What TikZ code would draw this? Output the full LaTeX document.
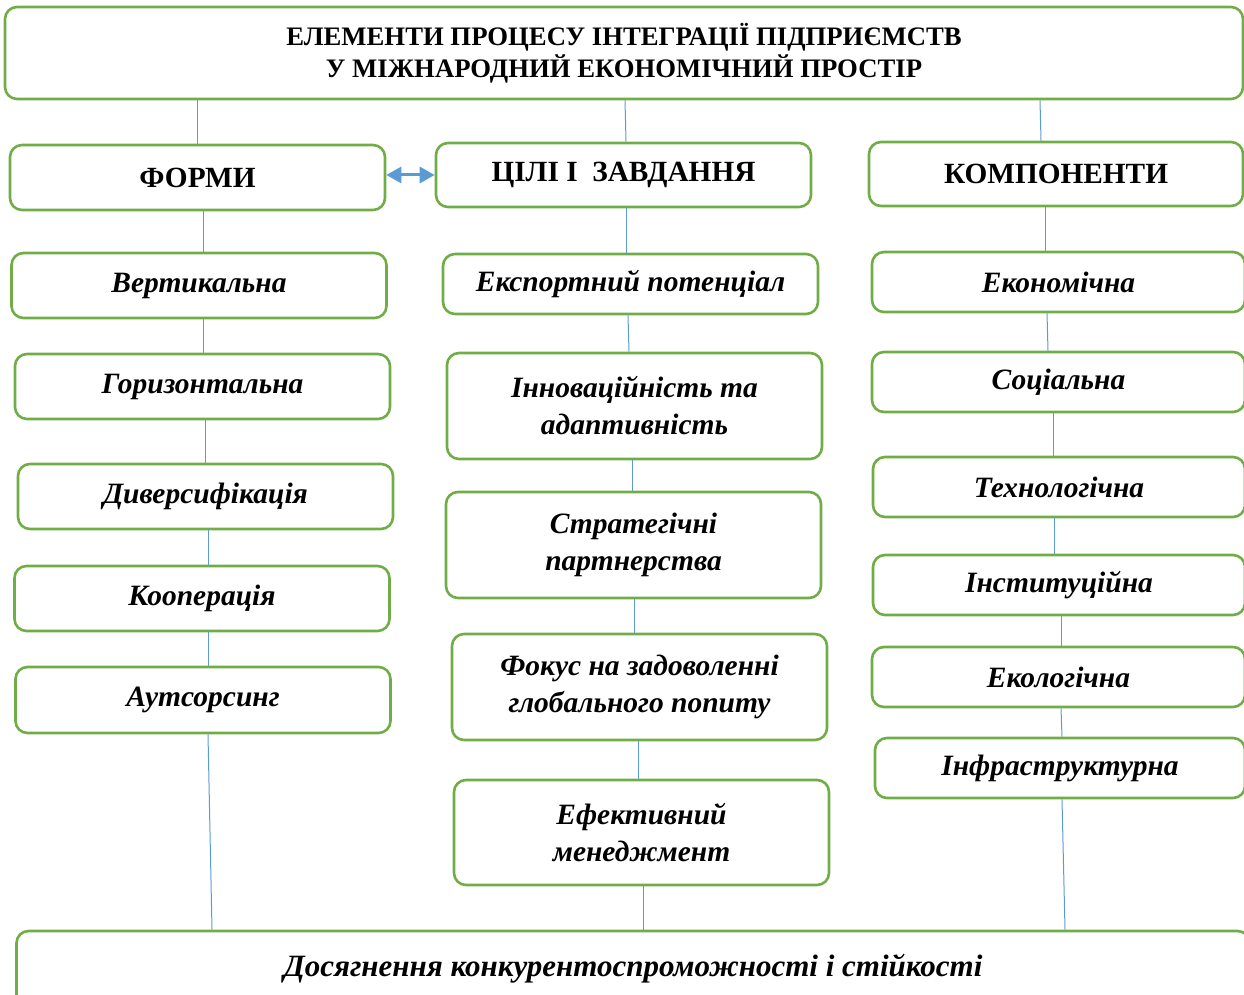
\documentclass[tikz,border=0pt]{standalone}
\usepackage{fontspec}
\setmainfont{Liberation Serif}
\usepackage{xcolor}
\usetikzlibrary{arrows.meta}

\definecolor{boxgreen}{HTML}{70AD47}
\definecolor{linkblue}{HTML}{5B9BD5}

\tikzset{
    box/.style={draw=boxgreen, line width=2.6pt, rounded corners=12pt, fill=white,
        minimum width=375pt, minimum height=65pt, align=center, inner sep=0pt,
        font=\fontsize{29.5}{37}\selectfont\bfseries\itshape},
    head/.style={box, font=\fontsize{29.3}{32}\selectfont\bfseries},
    link/.style={draw=linkblue, line width=1pt},
}

\begin{document}
\begin{tikzpicture}[x=1pt, y=-1pt]
    \useasboundingbox (0,0) rectangle (1244,995);

    % top box
    \node[box, minimum width=1238pt, minimum height=92pt,
          font=\fontsize{26.7}{32}\selectfont\bfseries] (title) at (624,53)
        {ЕЛЕМЕНТИ ПРОЦЕСУ ІНТЕГРАЦІЇ ПІДПРИЄМСТВ\\ У МІЖНАРОДНИЙ ЕКОНОМІЧНИЙ ПРОСТІР};

    % heads
    \node[head] (formy) at (197.5,177.5) {ФОРМИ};
    \node[head, minimum height=64pt] (tsili) at (623.5,175) {ЦІЛІ І\ \ ЗАВДАННЯ};
    \node[head, minimum width=374pt, minimum height=64pt] (komp) at (1056,174) {КОМПОНЕНТИ};

    % forms
    \node[box] (vert)   at (199,285.5)   {Вертикальна};
    \node[box] (horiz)  at (202.5,386.5) {Горизонтальна};
    \node[box] (divers) at (205.5,496.5) {Диверсифікація};
    \node[box] (koop)   at (202,598.5)   {Кооперація};
    \node[box, minimum height=66pt] (outs) at (203,700) {Аутсорсинг};

    % goals
    \node[box, minimum height=60pt]  (eksp)  at (630.5,284) {Експортний потенціал};
    \node[box, minimum height=106pt] (innov) at (634.5,406) {Інноваційність та\\ адаптивність};
    \node[box, minimum height=106pt] (strat) at (633.5,545) {Стратегічні\\ партнерства};
    \node[box, minimum height=106pt] (fokus) at (639.5,687) {Фокус на задоволенні\\ глобального попиту};
    \node[box, minimum height=105pt] (efekt) at (641.5,832.5) {Ефективний\\ менеджмент};

    % components
    \node[box, minimum width=373pt, minimum height=60pt] (ekon)  at (1058.5,282) {Економічна};
    \node[box, minimum width=373pt, minimum height=60pt] (soc)   at (1058.5,382) {Соціальна};
    \node[box, minimum width=372pt, minimum height=60pt] (tekh)  at (1059,487)   {Технологічна};
    \node[box, minimum width=372pt, minimum height=60pt] (inst)  at (1059,585)   {Інституційна};
    \node[box, minimum width=373pt, minimum height=60pt] (ekol)  at (1058.5,677) {Екологічна};
    \node[box, minimum width=370pt, minimum height=60pt] (infra) at (1060,768)   {Інфраструктурна};

    % bottom box
    \node[box, minimum width=1233pt, minimum height=76pt,
          font=\fontsize{31}{37}\selectfont\bfseries\itshape] (goal) at (633,969)
        {Досягнення конкурентоспроможності і стійкості};

    % links
    \draw[link] (title.south -| formy.north) -- (formy.north);
    \draw[link] ([xshift=1.5pt]tsili.north |- title.south) -- ([xshift=2.5pt]tsili.north);
    \draw[link] ([xshift=-16pt]komp.north |- title.south) -- ([xshift=-15pt]komp.north);

    \draw[link] ([xshift=5.5pt]formy.south) -- ([xshift=4pt]vert.north);
    \draw[link] ([xshift=4pt]vert.south) -- ([xshift=0.5pt]horiz.north);
    \draw[link] ([xshift=2.5pt]horiz.south) -- ([xshift=-0.5pt]divers.north);
    \draw[link] ([xshift=2.5pt]divers.south) -- ([xshift=6pt]koop.north);
    \draw[link] ([xshift=6pt]koop.south) -- ([xshift=5pt]outs.north);
    \draw[link] ([xshift=5pt]outs.south) -- ([xshift=9pt]outs.south |- goal.north);

    \draw[link] ([xshift=2.5pt]tsili.south) -- ([xshift=-4.5pt]eksp.north);
    \draw[link] ([xshift=-2.5pt]eksp.south) -- ([xshift=-5.5pt]innov.north);
    \draw[link] ([xshift=-2.5pt]innov.south) -- ([xshift=-1.5pt]strat.north);
    \draw[link] ([xshift=0.5pt]strat.south) -- ([xshift=-5.5pt]fokus.north);
    \draw[link] ([xshift=-1.5pt]fokus.south) -- ([xshift=-3.5pt]efekt.north);
    \draw[link] ([xshift=1.5pt]efekt.south) -- ([xshift=1.5pt]efekt.south |- goal.north);

    \draw[link] ([xshift=-11pt]komp.south) -- ([xshift=-13.5pt]ekon.north);
    \draw[link] ([xshift=-11.5pt]ekon.south) -- ([xshift=-10.5pt]soc.north);
    \draw[link] ([xshift=-5.5pt]soc.south) -- ([xshift=-6pt]tekh.north);
    \draw[link] ([xshift=-5pt]tekh.south) -- ([xshift=-5pt]inst.north);
    \draw[link] ([xshift=2pt]inst.south) -- ([xshift=2.5pt]ekol.north);
    \draw[link] ([xshift=2.5pt]ekol.south) -- ([xshift=2pt]infra.north);
    \draw[link] ([xshift=2pt]infra.south) -- ([xshift=5pt]infra.south |- goal.north);

    % double arrow
    \draw[linkblue, line width=3pt, {Triangle[length=15pt,width=16pt]}-{Triangle[length=15pt,width=16pt]}]
        (formy.east |- tsili.west) -- (tsili.west);
\end{tikzpicture}
\end{document}
